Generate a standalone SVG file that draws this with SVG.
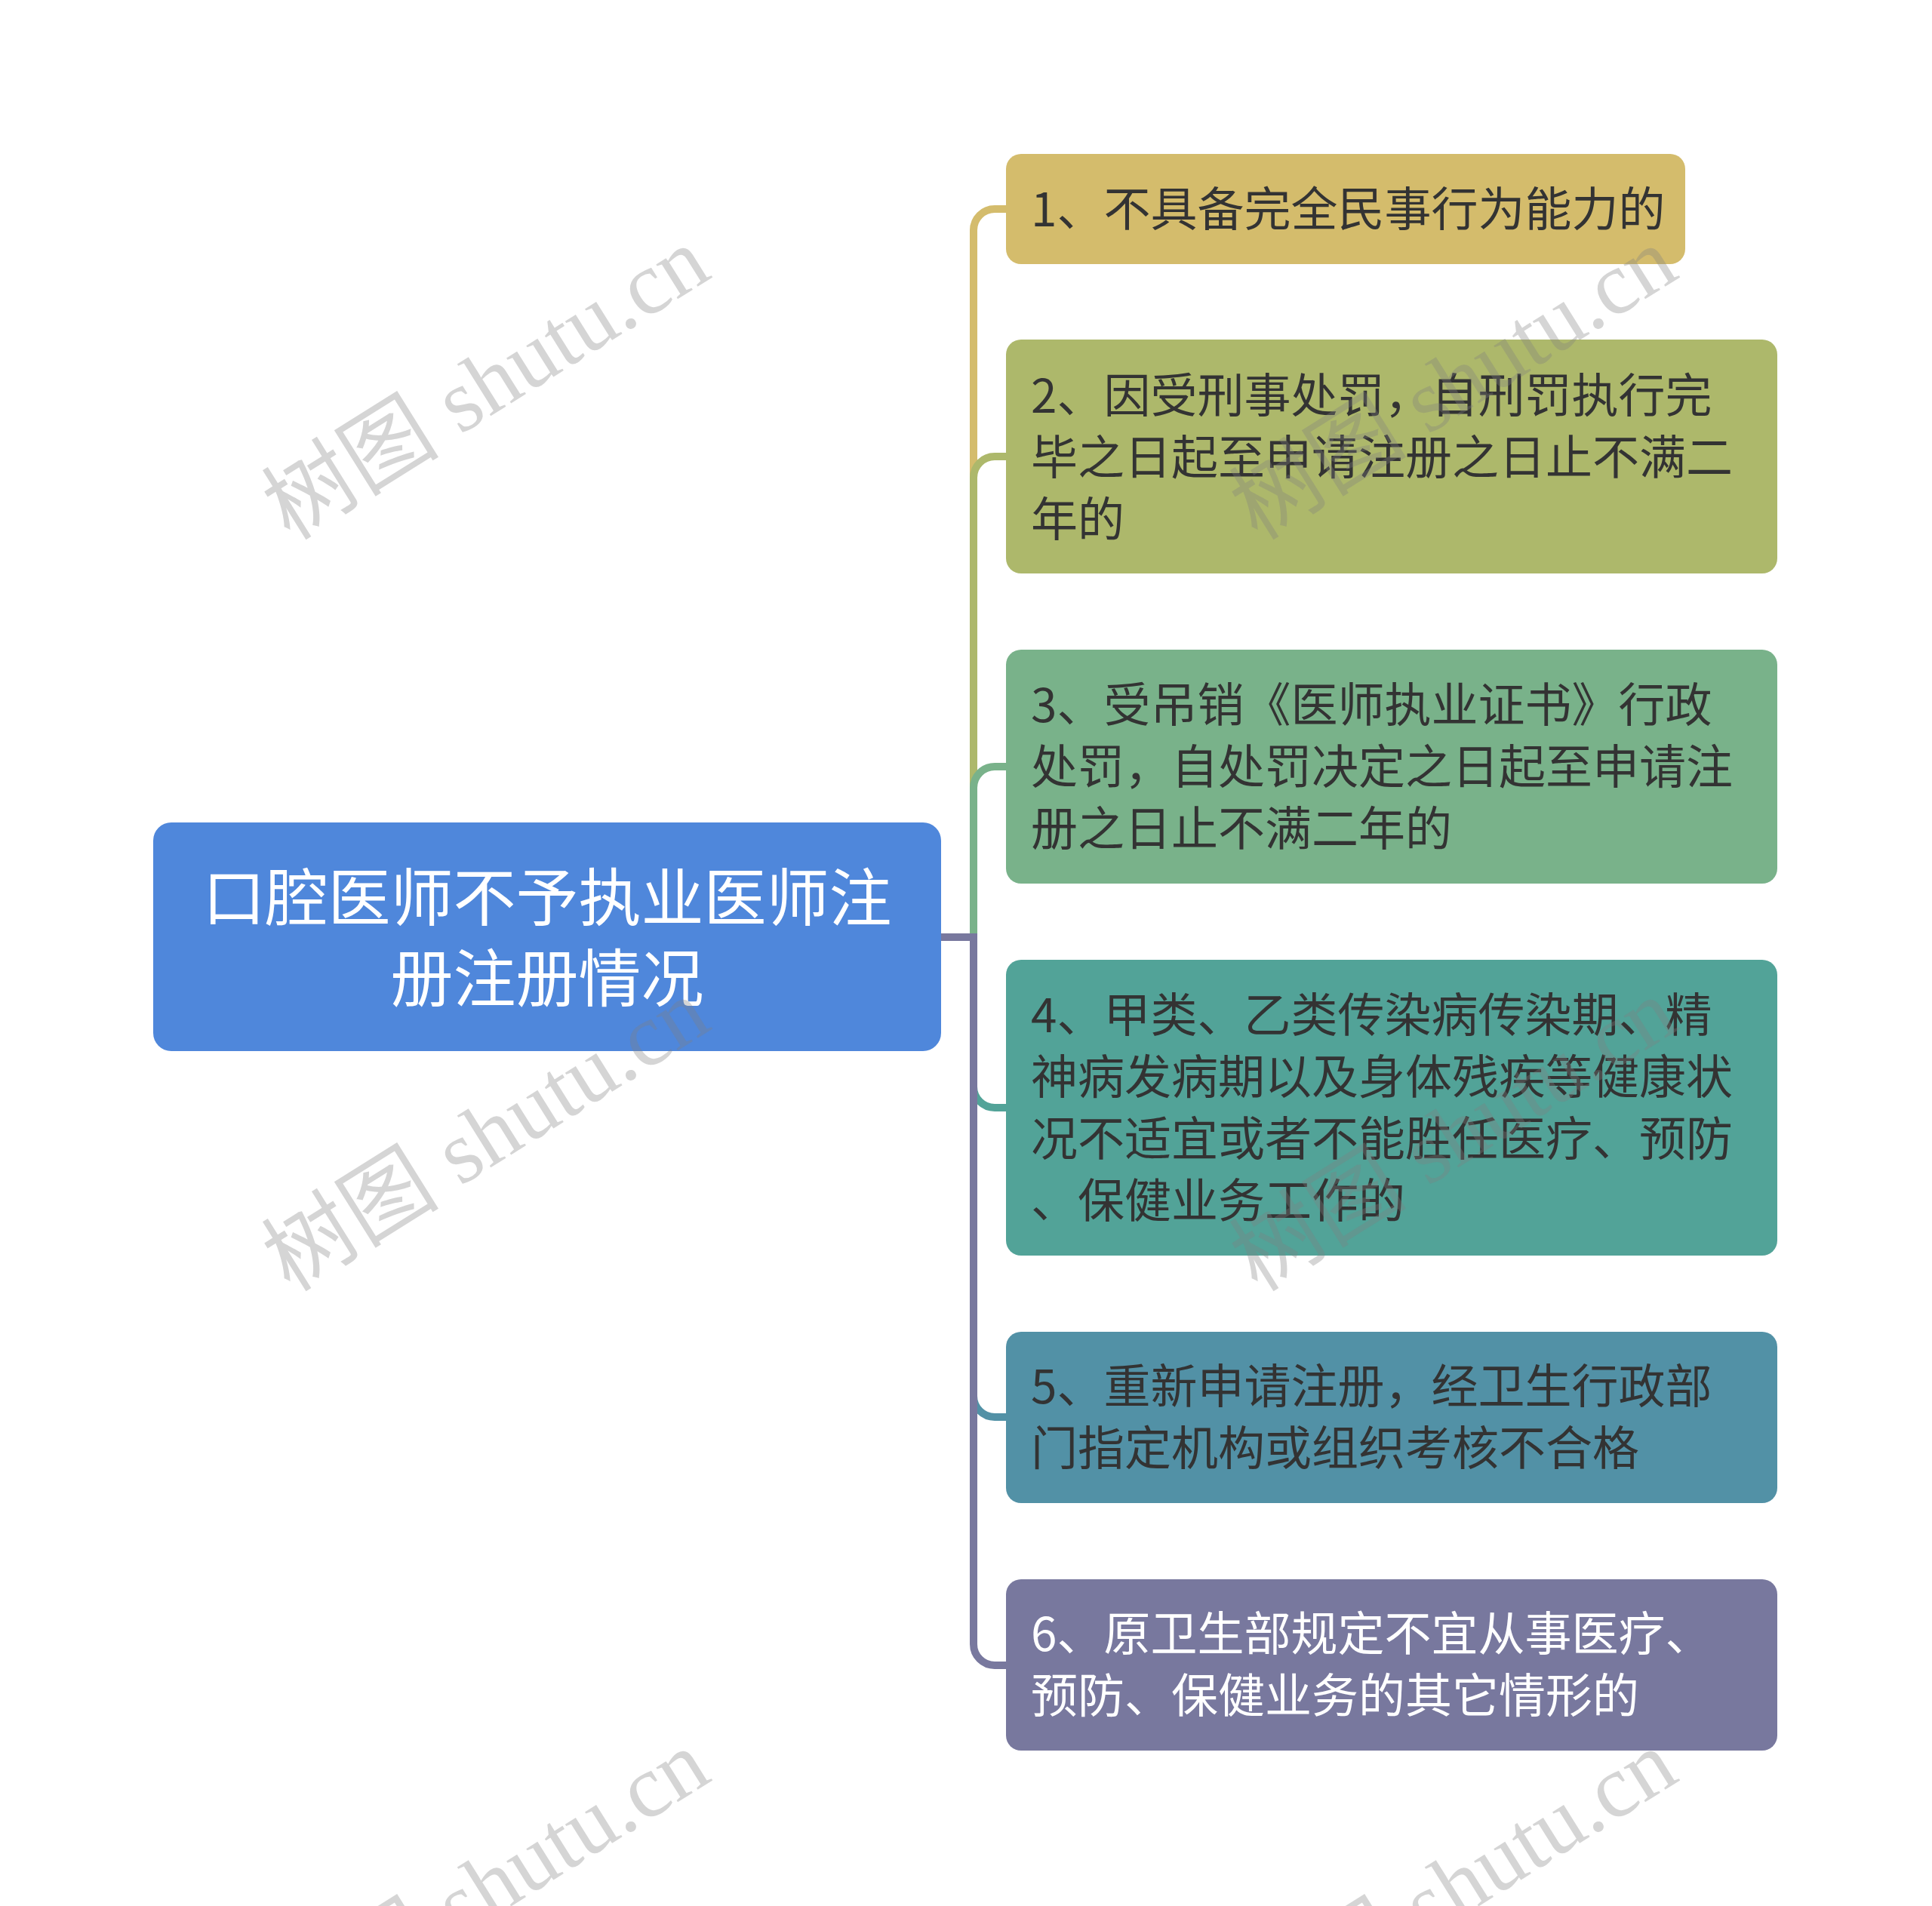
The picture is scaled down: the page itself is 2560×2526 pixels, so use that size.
<svg xmlns="http://www.w3.org/2000/svg" width="2560" height="2526" viewBox="0 0 2560 2526">
<style>
.t{font-family:"Noto Sans CJK SC","Noto Sans",sans-serif;font-size:62px;fill:#333333}
.tw{fill:#ffffff}
.root{font-family:"Noto Sans CJK SC","Noto Sans",sans-serif;font-size:83px;fill:#ffffff;text-anchor:middle}
.c{fill:none;stroke-width:10;stroke-linejoin:miter}
.wm{font-family:"Liberation Serif","Noto Sans CJK SC",serif;font-size:118px;fill:#808080;fill-opacity:0.33;text-anchor:middle}
</style>
<rect width="2560" height="2526" fill="#ffffff"/>
<g id="connectors">
<path class="c" stroke="#D4BC6C" d="M1247,1242 H1290 V305 A28,28 0 0 1 1318,277 H1336"/>
<path class="c" stroke="#ADB86B" d="M1247,1242 H1290 V633 A28,28 0 0 1 1318,605 H1336"/>
<path class="c" stroke="#79B28A" d="M1247,1242 H1290 V1044 A28,28 0 0 1 1318,1016 H1336"/>
<path class="c" stroke="#52A398" d="M1247,1242 H1290 V1440 A28,28 0 0 0 1318,1468 H1336"/>
<path class="c" stroke="#5291A6" d="M1247,1242 H1290 V1850 A28,28 0 0 0 1318,1878 H1336"/>
<path class="c" stroke="#78789E" d="M1247,1242 H1290 V2179 A28,28 0 0 0 1318,2207 H1336"/>
</g>
<g id="root">
<rect x="203" y="1090" width="1044" height="303" rx="24" fill="#4F87DB"/>
<text class="root" x="725" y="1220">口腔医师不予执业医师注</text>
<text class="root" x="725" y="1327">册注册情况</text>
</g>
<g id="n1">
<rect x="1333" y="204" width="900" height="146" rx="20" fill="#D4BC6C"/>
<text class="t" x="1366" y="300">1、不具备完全民事行为能力的</text>
</g>
<g id="n2">
<rect x="1333" y="450" width="1022" height="310" rx="20" fill="#ADB86B"/>
<text class="t" x="1366" y="547">2、因受刑事处罚，自刑罚执行完</text>
<text class="t" x="1366" y="629">毕之日起至申请注册之日止不满二</text>
<text class="t" x="1366" y="711">年的</text>
</g>
<g id="n3">
<rect x="1333" y="861" width="1022" height="310" rx="20" fill="#79B28A"/>
<text class="t" x="1366" y="957">3、受吊销《医师执业证书》行政</text>
<text class="t" x="1366" y="1039">处罚，自处罚决定之日起至申请注</text>
<text class="t" x="1366" y="1121">册之日止不满二年的</text>
</g>
<g id="n4">
<rect x="1333" y="1272" width="1022" height="392" rx="20" fill="#52A398"/>
<text class="t" x="1366" y="1368">4、甲类、乙类传染病传染期、精</text>
<text class="t" x="1366" y="1450">神病发病期以及身体残疾等健康状</text>
<text class="t" x="1366" y="1532">况不适宜或者不能胜任医疗、预防</text>
<text class="t" x="1366" y="1614">、保健业务工作的</text>
</g>
<g id="n5">
<rect x="1333" y="1765" width="1022" height="227" rx="20" fill="#5291A6"/>
<text class="t" x="1366" y="1860">5、重新申请注册，经卫生行政部</text>
<text class="t" x="1366" y="1942">门指定机构或组织考核不合格</text>
</g>
<g id="n6">
<rect x="1333" y="2093" width="1022" height="227" rx="20" fill="#78789E"/>
<text class="t tw" x="1366" y="2188">6、原卫生部规定不宜从事医疗、</text>
<text class="t tw" x="1366" y="2270">预防、保健业务的其它情形的</text>
</g>
<g id="watermarks">
<text class="wm" transform="translate(665,542) rotate(-32)">树图 shutu.cn</text>
<text class="wm" transform="translate(1947,542) rotate(-32)">树图 shutu.cn</text>
<text class="wm" transform="translate(665,1538) rotate(-32)">树图 shutu.cn</text>
<text class="wm" transform="translate(1947,1538) rotate(-32)">树图 shutu.cn</text>
<text class="wm" transform="translate(665,2534) rotate(-32)">树图 shutu.cn</text>
<text class="wm" transform="translate(1947,2534) rotate(-32)">树图 shutu.cn</text>
</g>
</svg>
